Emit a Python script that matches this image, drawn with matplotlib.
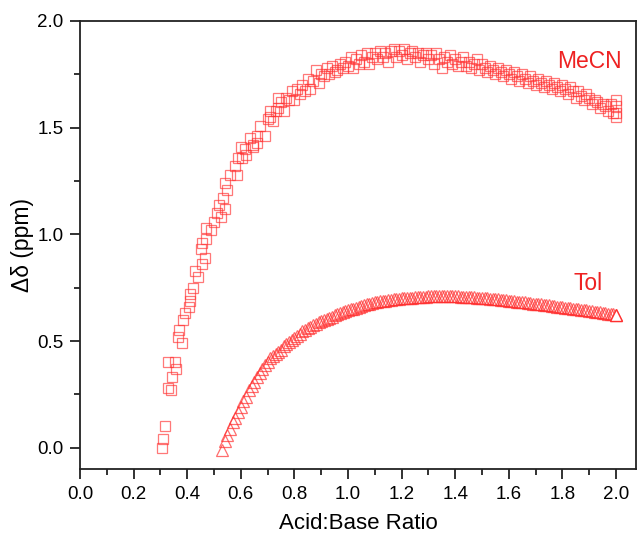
import matplotlib
matplotlib.use('Agg')
import matplotlib.pyplot as plt
from matplotlib.ticker import MultipleLocator

plt.rcParams['font.family'] = ['Liberation Sans', 'DejaVu Sans']

# MeCN 数据 (方块)
mecn_x = [0.305, 0.31, 0.317, 0.33, 0.34, 0.345, 0.33, 0.355, 0.36, 0.38, 0.365, 0.37,
          0.385, 0.39, 0.405, 0.41, 0.41, 0.42, 0.44, 0.43, 0.455, 0.465, 0.45, 0.455,
          0.47, 0.47, 0.49, 0.50, 0.525, 0.51, 0.54, 0.52, 0.535, 0.55, 0.54, 0.56,
          0.585, 0.58, 0.59, 0.605, 0.62, 0.60, 0.615, 0.645, 0.645, 0.635, 0.66, 0.66,
          0.69, 0.67, 0.71, 0.74,
          0.70, 0.71, 0.72, 0.73, 0.74, 0.75, 0.76, 0.77, 0.78, 0.79,
          0.80, 0.81, 0.82, 0.83, 0.84, 0.85, 0.86, 0.87, 0.88, 0.89,
          0.90, 0.91, 0.92, 0.93, 0.94, 0.95, 0.96, 0.97, 0.98, 0.99,
          1.00, 1.01, 1.02, 1.03, 1.04, 1.05, 1.06, 1.07, 1.08, 1.09,
          1.10, 1.11, 1.12, 1.13, 1.14, 1.15, 1.16, 1.17, 1.18, 1.19,
          1.20, 1.21, 1.22, 1.23, 1.24, 1.25, 1.26, 1.27, 1.28, 1.29,
          1.30, 1.31, 1.32, 1.33, 1.34, 1.35, 1.36, 1.37, 1.38, 1.39,
          1.40, 1.41, 1.42, 1.43, 1.44, 1.45, 1.46, 1.47, 1.48, 1.49,
          1.50, 1.51, 1.52, 1.53, 1.54, 1.55, 1.56, 1.57, 1.58, 1.59,
          1.60, 1.61, 1.62, 1.63, 1.64, 1.65, 1.66, 1.67, 1.68, 1.69,
          1.70, 1.71, 1.72, 1.73, 1.74, 1.75, 1.76, 1.77, 1.78, 1.79,
          1.80, 1.81, 1.82, 1.83, 1.84, 1.85, 1.86, 1.87, 1.88, 1.89,
          1.90, 1.91, 1.92, 1.93, 1.94, 1.95, 1.96, 1.97, 1.98, 1.99,
          2.00, 2.00, 2.00, 2.00]
mecn_y = [0.00, 0.04, 0.10, 0.28, 0.27, 0.33, 0.40, 0.40, 0.37, 0.49, 0.52, 0.55,
          0.60, 0.63, 0.66, 0.69, 0.72, 0.75, 0.80, 0.83, 0.86, 0.89, 0.93, 0.96,
          0.98, 1.03, 1.02, 1.06, 1.08, 1.10, 1.12, 1.14, 1.17, 1.21, 1.24, 1.28,
          1.28, 1.32, 1.36, 1.36, 1.37, 1.41, 1.40, 1.41, 1.42, 1.45, 1.43, 1.46,
          1.46, 1.51, 1.58, 1.64,
          1.54, 1.55, 1.53, 1.58, 1.59, 1.62, 1.58, 1.64, 1.63, 1.67,
          1.63, 1.68, 1.66, 1.70, 1.67, 1.73, 1.68, 1.72, 1.77, 1.71,
          1.75, 1.74, 1.78, 1.75, 1.79, 1.76, 1.77, 1.80, 1.78, 1.81,
          1.79, 1.83, 1.78, 1.82, 1.80, 1.84, 1.81, 1.85, 1.80, 1.83,
          1.85, 1.82, 1.86, 1.83, 1.85, 1.81, 1.86, 1.87, 1.83, 1.86,
          1.84, 1.87, 1.82, 1.85, 1.86, 1.83, 1.85, 1.81, 1.84, 1.85,
          1.82, 1.84, 1.80, 1.85, 1.82, 1.78, 1.83, 1.81, 1.84, 1.80,
          1.82, 1.79, 1.81, 1.83, 1.79, 1.81, 1.78, 1.80, 1.82, 1.77,
          1.80, 1.78, 1.76, 1.79, 1.77, 1.75, 1.78, 1.76, 1.74, 1.77,
          1.75, 1.73, 1.76, 1.74, 1.72, 1.75, 1.73, 1.71, 1.74, 1.72,
          1.70, 1.73, 1.71, 1.69, 1.72, 1.70, 1.68, 1.71, 1.69, 1.67,
          1.70, 1.68, 1.66, 1.69, 1.67, 1.64, 1.67, 1.65, 1.63, 1.66,
          1.64, 1.61, 1.63, 1.62, 1.59, 1.61, 1.60, 1.58, 1.61, 1.57,
          1.63, 1.60, 1.57, 1.55]

# Tol 数据 (三角)
tol_x = [0.53, 0.54, 0.55, 0.56, 0.57, 0.58, 0.59,
         0.60, 0.61, 0.62, 0.63, 0.64, 0.65, 0.66, 0.67, 0.68, 0.69,
         0.70, 0.71, 0.72, 0.73, 0.74, 0.75, 0.76, 0.77, 0.78, 0.79,
         0.80, 0.81, 0.82, 0.83, 0.84, 0.85, 0.86, 0.87, 0.88, 0.89,
         0.90, 0.91, 0.92, 0.93, 0.94, 0.95, 0.96, 0.97, 0.98, 0.99,
         1.00, 1.01, 1.02, 1.03, 1.04, 1.05, 1.06, 1.07, 1.08, 1.09,
         1.10, 1.11, 1.12, 1.13, 1.14, 1.15, 1.16, 1.17, 1.18, 1.19,
         1.20, 1.21, 1.22, 1.23, 1.24, 1.25, 1.26, 1.27, 1.28, 1.29,
         1.30, 1.31, 1.32, 1.33, 1.34, 1.35, 1.36, 1.37, 1.38, 1.39,
         1.40, 1.41, 1.42, 1.43, 1.44, 1.45, 1.46, 1.47, 1.48, 1.49,
         1.50, 1.51, 1.52, 1.53, 1.54, 1.55, 1.56, 1.57, 1.58, 1.59,
         1.60, 1.61, 1.62, 1.63, 1.64, 1.65, 1.66, 1.67, 1.68, 1.69,
         1.70, 1.71, 1.72, 1.73, 1.74, 1.75, 1.76, 1.77, 1.78, 1.79,
         1.80, 1.81, 1.82, 1.83, 1.84, 1.85, 1.86, 1.87, 1.88, 1.89,
         1.90, 1.91, 1.92, 1.93, 1.94, 1.95, 1.96, 1.97, 1.98, 1.99, 2.00]
tol_y = [-0.01, 0.03, 0.06, 0.09, 0.12, 0.14, 0.17,
         0.19, 0.22, 0.24, 0.27, 0.29, 0.31, 0.33, 0.35, 0.37, 0.39,
         0.40, 0.42, 0.43, 0.44, 0.45, 0.46, 0.475, 0.485, 0.495, 0.505,
         0.515, 0.525, 0.535, 0.545, 0.55, 0.56, 0.565, 0.575, 0.58, 0.59,
         0.595, 0.60, 0.605, 0.61, 0.615, 0.62, 0.625, 0.63, 0.635, 0.64,
         0.645, 0.65, 0.652, 0.656, 0.66, 0.664, 0.668, 0.672, 0.675, 0.678,
         0.681, 0.684, 0.686, 0.688, 0.69, 0.692, 0.694, 0.696, 0.698, 0.699,
         0.700, 0.701, 0.702, 0.703, 0.704, 0.705, 0.706, 0.707, 0.708, 0.708,
         0.709, 0.709, 0.71, 0.71, 0.71, 0.71, 0.71, 0.71, 0.71, 0.71,
         0.709, 0.709, 0.708, 0.708, 0.707, 0.706, 0.706, 0.705, 0.704, 0.703,
         0.702, 0.701, 0.70, 0.699, 0.697, 0.696, 0.695, 0.694, 0.692, 0.691,
         0.69, 0.688, 0.687, 0.685, 0.684, 0.682, 0.681, 0.679, 0.678, 0.676,
         0.675, 0.673, 0.672, 0.67, 0.669, 0.667, 0.665, 0.664, 0.662, 0.661,
         0.659, 0.657, 0.656, 0.654, 0.652, 0.651, 0.649, 0.647, 0.645, 0.644,
         0.642, 0.64, 0.638, 0.636, 0.634, 0.632, 0.631, 0.629, 0.627, 0.625, 0.623]

red = '#ff3030'

fig = plt.figure(figsize=(6.37, 5.38), dpi=100)
ax = fig.add_axes([0.1256, 0.128, 0.8729, 0.833])

ax.plot(mecn_x, mecn_y, linestyle='none', marker='s', markersize=7.5,
        markerfacecolor='none', markeredgecolor=red, markeredgewidth=0.9, alpha=0.65)
ax.plot(tol_x, tol_y, linestyle='none', marker='^', markersize=8.5,
        markerfacecolor='none', markeredgecolor=red, markeredgewidth=0.9, alpha=0.7)
ax.plot(tol_x[-1:], tol_y[-1:], linestyle='none', marker='^', markersize=8.5,
        markerfacecolor='white', markeredgecolor=red, markeredgewidth=1.0)

ax.text(1.78, 1.78, 'MeCN', color='#ee2222', fontsize=16.5)
ax.text(1.84, 0.74, 'Tol', color='#ee2222', fontsize=16.5)

ax.set_xlim(0.0, 2.075)
ax.set_ylim(-0.1, 2.0)
ax.xaxis.set_minor_locator(MultipleLocator(0.1))
ax.yaxis.set_minor_locator(MultipleLocator(0.25))
ax.set_xticks([0.0, 0.2, 0.4, 0.6, 0.8, 1.0, 1.2, 1.4, 1.6, 1.8, 2.0])
ax.set_yticks([0.0, 0.5, 1.0, 1.5, 2.0])
ax.xaxis.set_major_formatter(plt.FormatStrFormatter('%.1f'))
ax.yaxis.set_major_formatter(plt.FormatStrFormatter('%.1f'))
ax.tick_params(which='both', direction='out', width=1.3, labelsize=13.5,
               top=False, right=False, color='#222222')
ax.tick_params(which='major', length=7, pad=5)
ax.tick_params(which='minor', length=4)
for s in ax.spines.values():
    s.set_linewidth(1.3)
    s.set_color('#222222')

ax.set_xlabel('Acid:Base Ratio', fontsize=16, labelpad=7)
ax.set_ylabel('Δδ (ppm)', fontsize=16.5, labelpad=2)

fig.savefig('out.png', dpi=100)
